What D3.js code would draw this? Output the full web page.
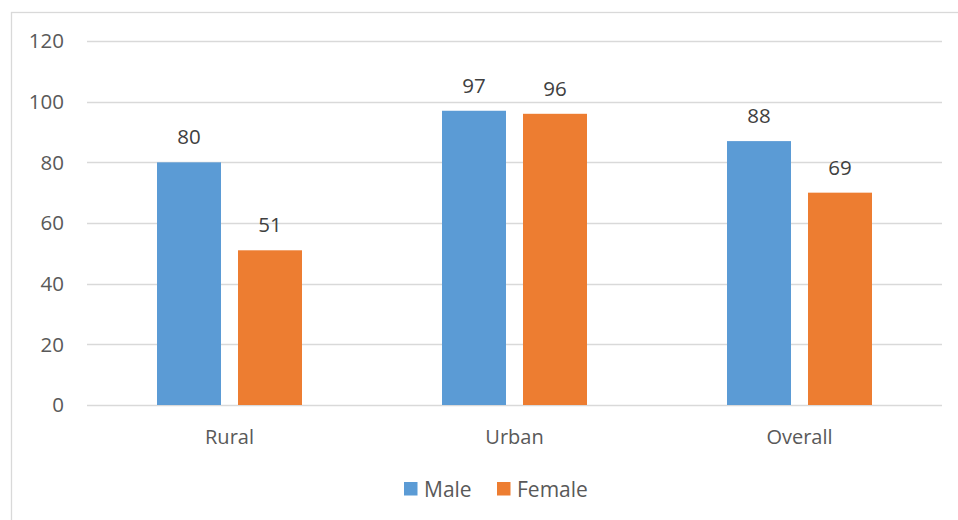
<!DOCTYPE html>
<html>
<head>
<meta charset="utf-8">
<script src="https://cdn.jsdelivr.net/npm/d3@7"></script>
<style>
  body { margin: 0; background: #fff; }
  svg { display: block; font-family: "Open Sans", "Noto Sans", sans-serif; }
</style>
</head>
<body>
<div id="chart"></div>
<script>
const width = 958;
const height = 520;

const categories = ["Rural", "Urban", "Overall"];
const series = ["Male", "Female"];
const colors = ["#5b9bd5", "#ed7d31"];
// bar heights as drawn, and the labels printed above them
const maleValues = [80, 97, 87];
const femaleValues = [51, 96, 70];
const maleLabels = [80, 97, 88];
const femaleLabels = [51, 96, 69];
const yTicks = [0, 20, 40, 60, 80, 100, 120];

const margin = {left: 87, right: 16, top: 41, bottom: 115};

const svg = d3.select("#chart").append("svg")
    .attr("width", width)
    .attr("height", height);

// outer chart border
svg.append("rect")
    .attr("x", 11.5).attr("y", 12.5)
    .attr("width", width + 10).attr("height", height + 10)
    .attr("fill", "none")
    .attr("stroke", "#d9d9d9")
    .attr("stroke-width", 1.3);

const y = d3.scaleLinear()
    .domain([0, 120])
    .range([height - margin.bottom, margin.top]);

const x0 = d3.scaleBand()
    .domain(categories)
    .range([margin.left, width - margin.right]);

const x1 = d3.scaleBand()
    .domain(series)
    .range([70, x0.bandwidth() - 70])
    .paddingInner(0.21);

// gridlines
svg.append("g")
    .selectAll("line")
    .data(yTicks)
    .join("line")
    .attr("x1", margin.left)
    .attr("x2", width - margin.right)
    .attr("y1", d => Math.round(y(d)) + 0.5)
    .attr("y2", d => Math.round(y(d)) + 0.5)
    .attr("stroke", "#d9d9d9")
    .attr("stroke-width", 1.5);

// y tick labels
svg.append("g")
    .selectAll("text")
    .data(yTicks)
    .join("text")
    .attr("x", 64)
    .attr("y", d => y(d))
    .attr("dy", "0.36em")
    .attr("text-anchor", "end")
    .attr("fill", "#595959")
    .style("font-size", "20.5px")
    .text(d => d);

const rows = categories.map((c, i) => ({
    cat: c,
    vals: [
        {s: "Male", v: maleValues[i], lab: maleLabels[i], color: colors[0]},
        {s: "Female", v: femaleValues[i], lab: femaleLabels[i], color: colors[1]}
    ]
}));

const group = svg.append("g")
    .selectAll("g")
    .data(rows)
    .join("g")
    .attr("transform", d => `translate(${x0(d.cat)},0)`);

group.selectAll("rect")
    .data(d => d.vals)
    .join("rect")
    .attr("x", d => x1(d.s))
    .attr("width", x1.bandwidth())
    .attr("y", d => y(d.v))
    .attr("height", d => y(0) - y(d.v))
    .attr("fill", d => d.color);

group.selectAll("text.lab")
    .data(d => d.vals)
    .join("text")
    .attr("class", "lab")
    .attr("x", d => x1(d.s) + x1.bandwidth() / 2)
    .attr("y", d => y(d.v) - 18)
    .attr("text-anchor", "middle")
    .attr("fill", "#404040")
    .style("font-size", "20.5px")
    .text(d => d.lab);

// category labels
svg.append("g")
    .selectAll("text")
    .data(categories)
    .join("text")
    .attr("x", d => x0(d) + x0.bandwidth() / 2)
    .attr("y", 444)
    .attr("text-anchor", "middle")
    .attr("fill", "#595959")
    .style("font-size", "20px")
    .text(d => d);

// legend
const legendX = [404, 497];
const legend = svg.append("g")
    .selectAll("g")
    .data(series)
    .join("g")
    .attr("transform", (d, i) => `translate(${legendX[i]},482)`);

legend.append("rect")
    .attr("width", 13.5)
    .attr("height", 13.5)
    .attr("fill", (d, i) => colors[i]);

legend.append("text")
    .attr("x", 20)
    .attr("y", 7)
    .attr("dy", "0.36em")
    .attr("fill", "#595959")
    .style("font-size", "21px")
    .text(d => d);
</script>
</body>
</html>
